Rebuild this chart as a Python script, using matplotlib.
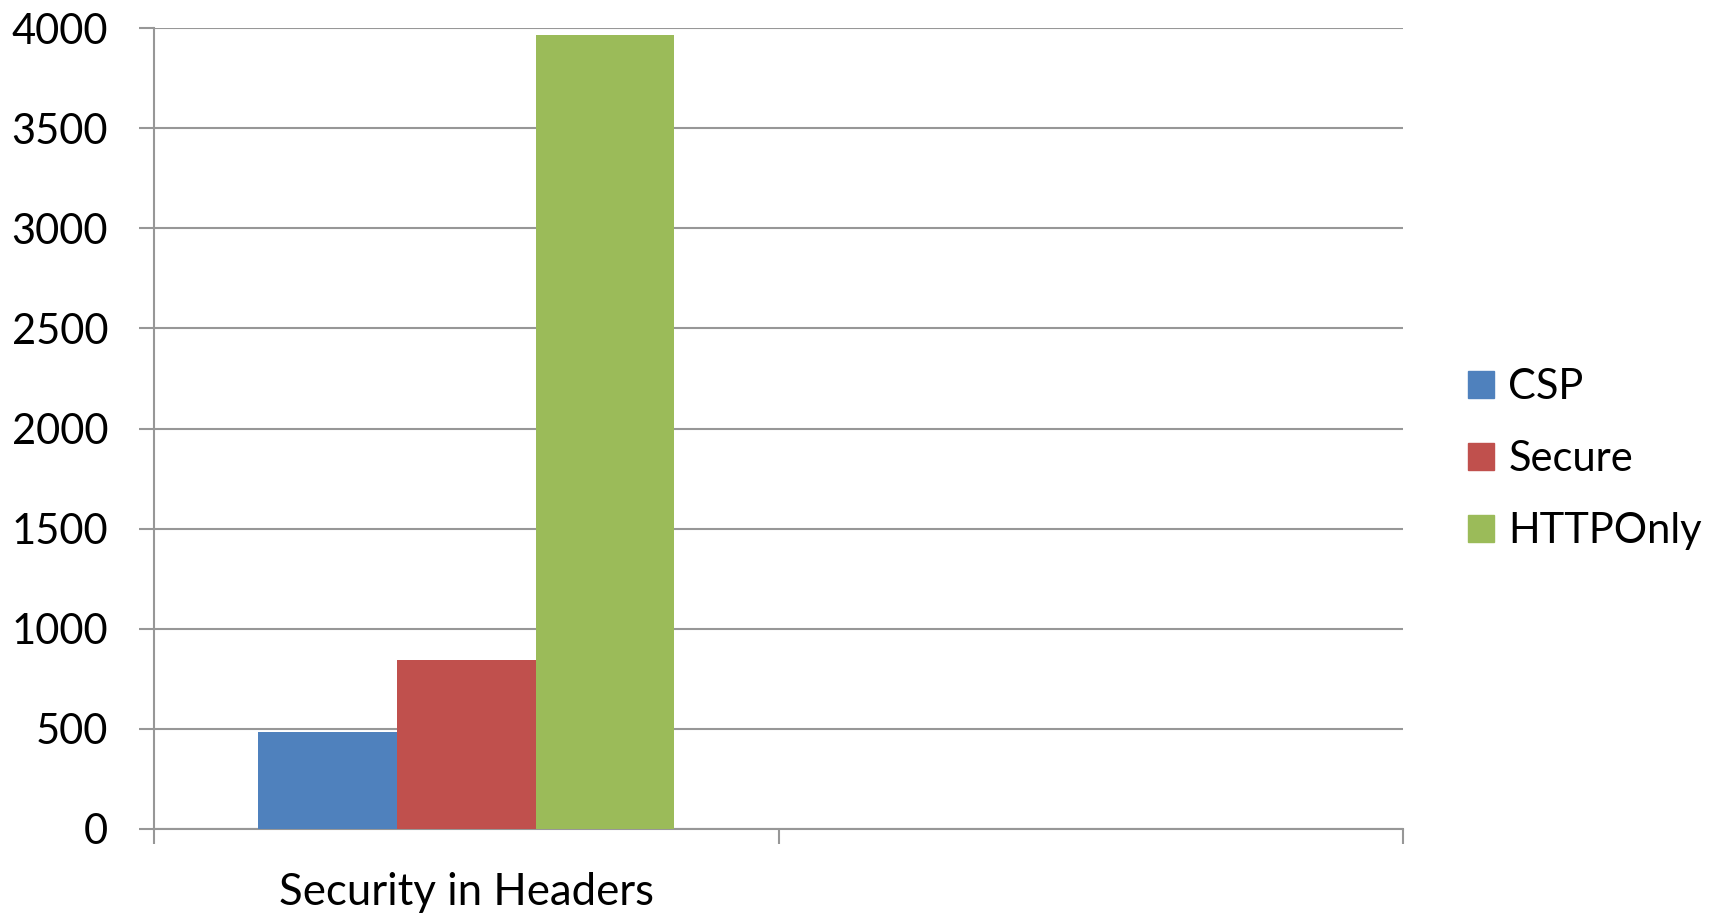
import numpy as np
import matplotlib
matplotlib.use("Agg")
import matplotlib.pyplot as plt
from matplotlib.patches import Patch

plt.rcParams.update({"font.family": ["Lato", "DejaVu Sans"]})

# cookie / header security counts
categories = ["Security in Headers", ""]
series = ["CSP", "Secure", "HTTPOnly"]
csp = [485, np.nan]
secure = [845, np.nan]
httponly = [3965, np.nan]
colors = ["#4F81BD", "#C0504D", "#9BBB59"]
GRID = "#979797"

fig = plt.figure(figsize=(17.16, 9.16), dpi=100)
ax = fig.add_axes([154/1716, 1-829/916, (1403-154)/1716, (829-28)/916])

x = np.arange(len(categories))
w = 1/4.5
for i, (vals, c) in enumerate(zip([csp, secure, httponly], colors)):
    ax.bar(x + (i-1)*w, vals, w, color=c, linewidth=0, zorder=3)

ax.set_xlim(-0.5, len(categories)-0.5)
ax.set_ylim(0, 4000)
ax.set_yticks(np.arange(0, 4001, 500))
ax.yaxis.grid(True, color=GRID, lw=1.5)
ax.set_axisbelow(True)

# category boundaries carry the tick marks, labels sit on minor ticks
ax.set_xticks(np.arange(len(categories)+1)-0.5)
ax.set_xticklabels([])
ax.set_xticks(x, minor=True)
ax.set_xticklabels(categories, minor=True, fontsize=31.5)
ax.tick_params(axis="x", which="minor", length=0, pad=31)
ax.tick_params(axis="x", which="major", length=11, width=1.5, color=GRID, direction="out")
ax.tick_params(axis="y", length=11, width=1.5, color=GRID, labelsize=30, pad=22)

for sp in ("top", "right"):
    ax.spines[sp].set_visible(False)
for sp in ("left", "bottom"):
    ax.spines[sp].set_color(GRID)
    ax.spines[sp].set_linewidth(1.5)

handles = [Patch(color=c, label=s) for s, c in zip(series, colors)]
fig.legend(handles=handles, loc="center left", bbox_to_anchor=(1447/1716, 1-459/916),
           frameon=False, fontsize=30, handlelength=0.62, handleheight=0.62,
           handletextpad=0.35, labelspacing=0.82, borderpad=0)

fig.savefig("out.png", dpi=100)
